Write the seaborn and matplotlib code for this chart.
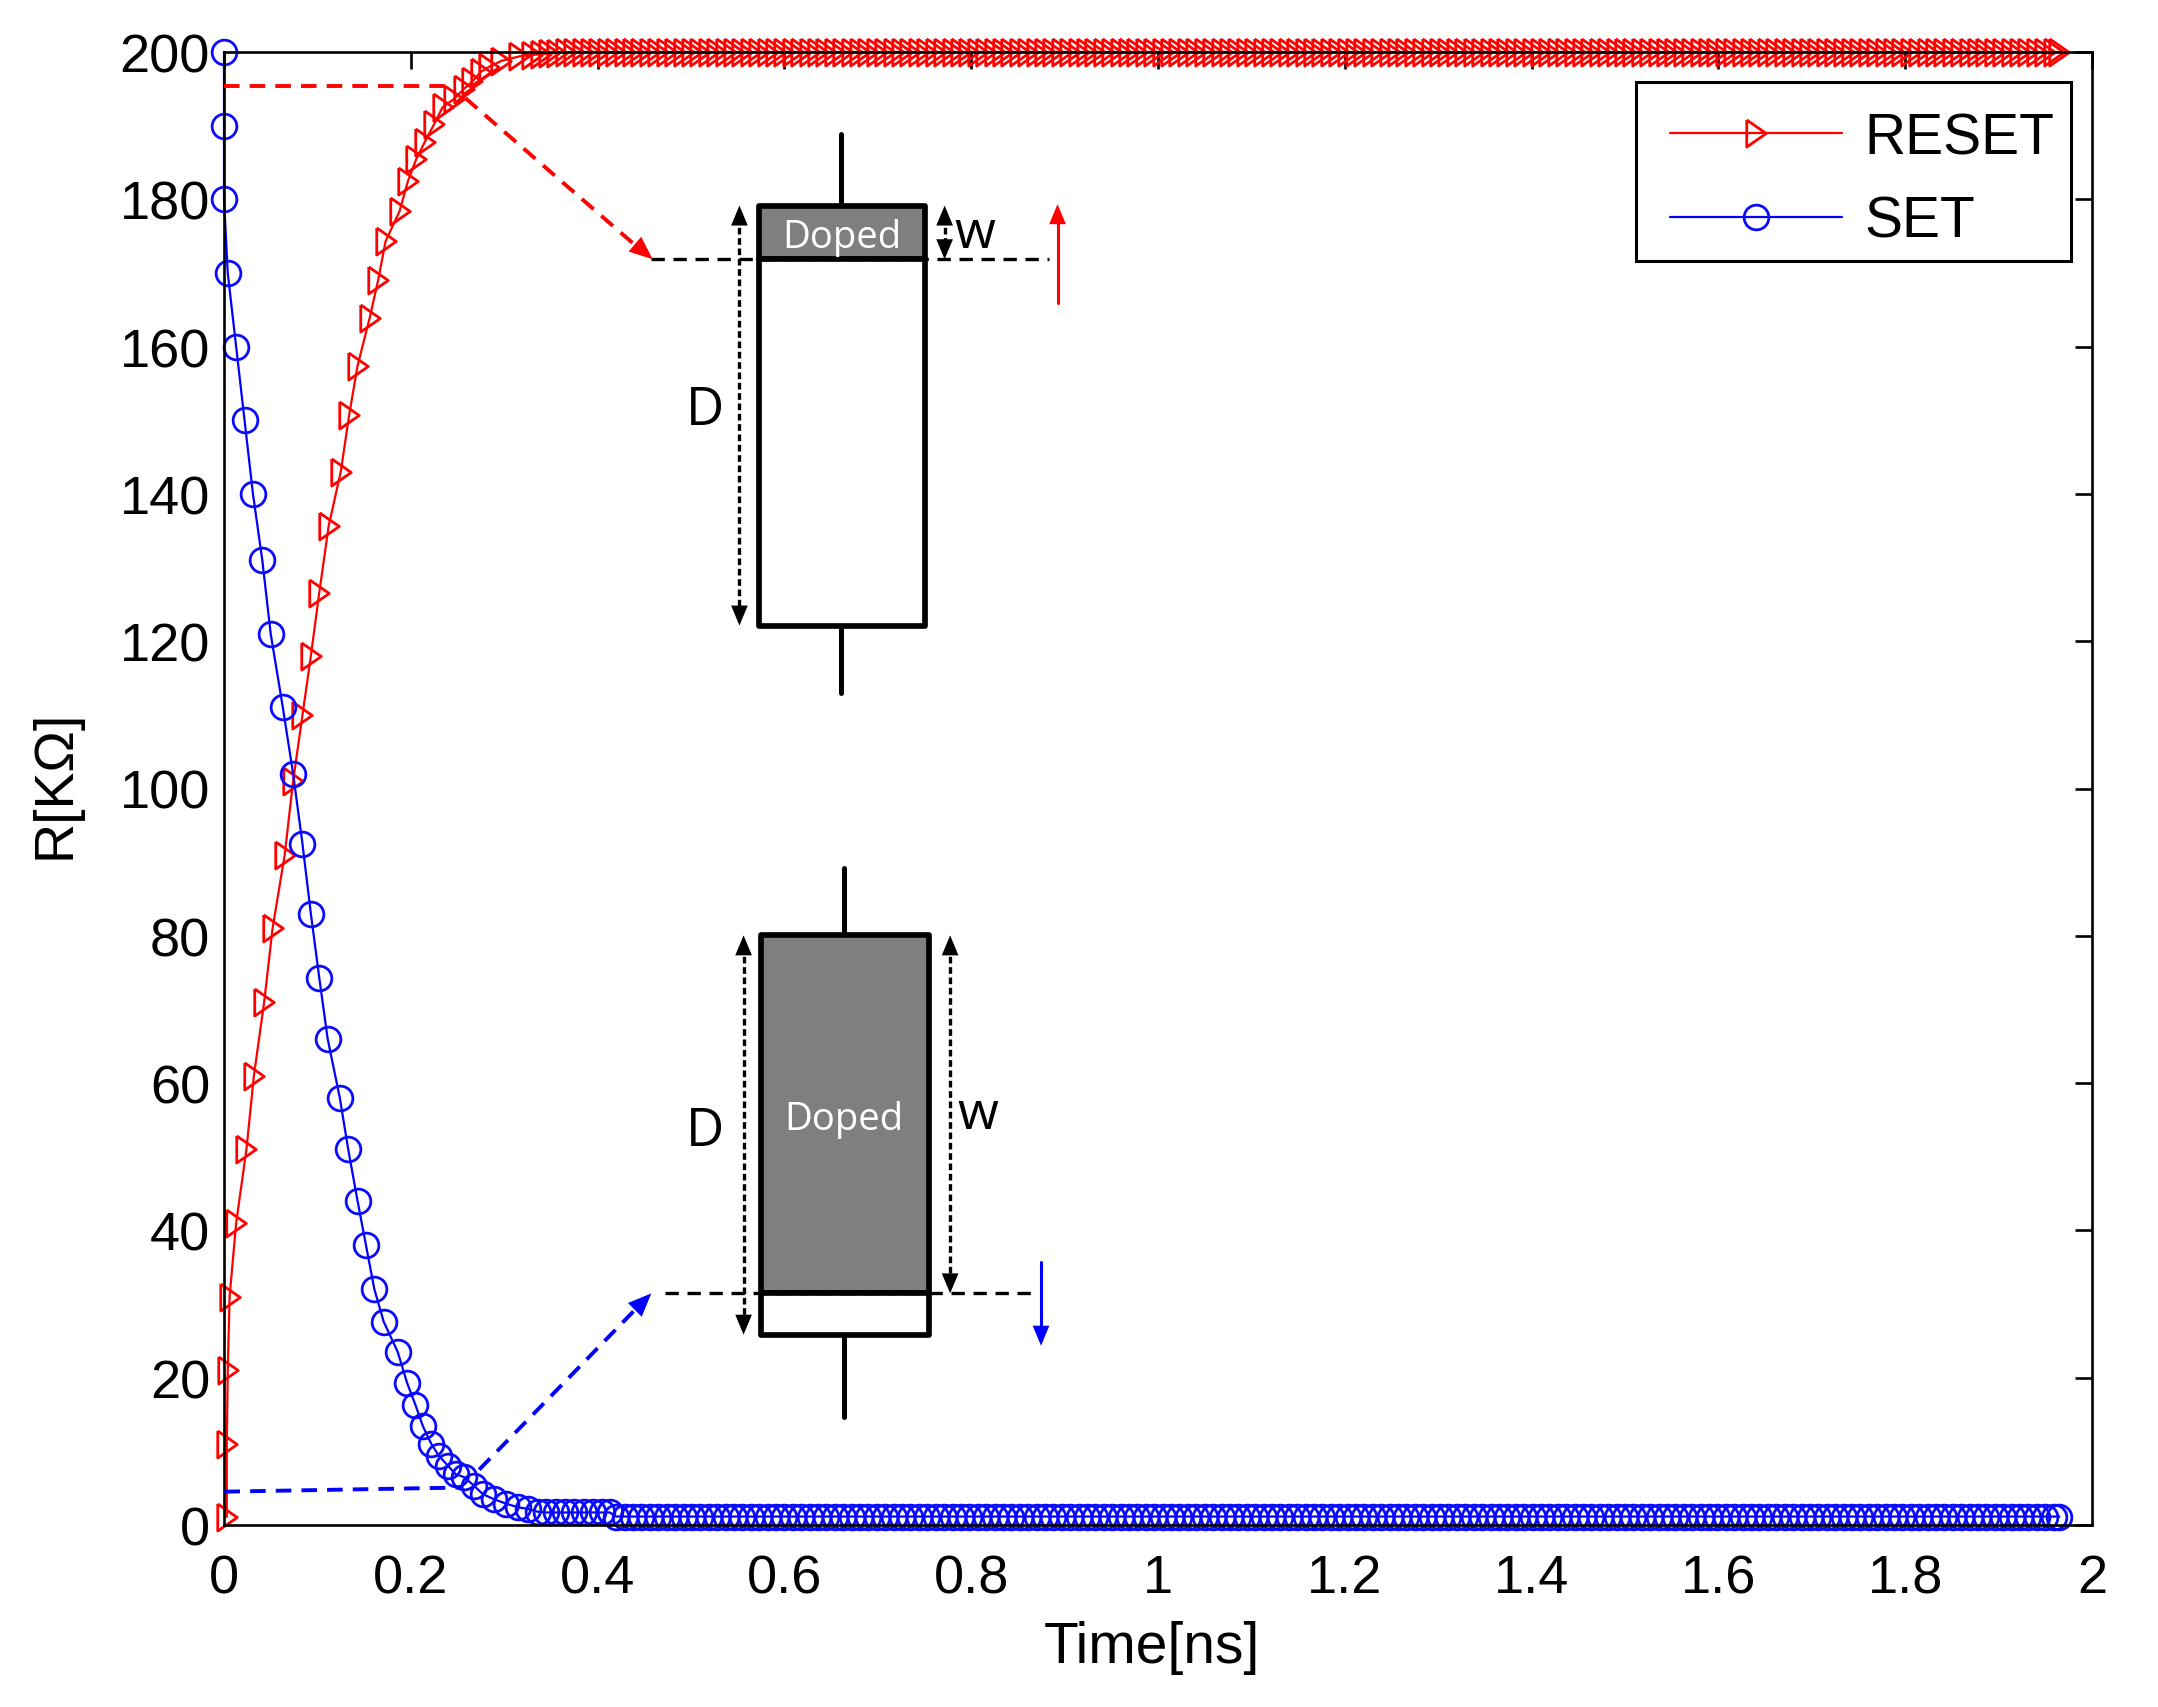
import matplotlib
matplotlib.use("Agg")
import matplotlib.pyplot as plt
import seaborn as sns
from matplotlib.lines import Line2D
from matplotlib.patches import Rectangle, FancyArrowPatch
from matplotlib.transforms import Affine2D

# ---------- data ----------
plateau_time = [
    0.42, 0.429, 0.438, 0.447, 0.456, 0.465, 0.474, 0.483, 0.492, 0.501,
    0.51, 0.519, 0.528, 0.537, 0.546, 0.555, 0.564, 0.573, 0.582, 0.591,
    0.6, 0.609, 0.618, 0.627, 0.636, 0.645, 0.654, 0.663, 0.672, 0.681,
    0.69, 0.699, 0.708, 0.717, 0.726, 0.735, 0.744, 0.753, 0.762, 0.771,
    0.78, 0.789, 0.798, 0.807, 0.816, 0.825, 0.834, 0.843, 0.852, 0.861,
    0.87, 0.879, 0.888, 0.897, 0.906, 0.915, 0.924, 0.933, 0.942, 0.951,
    0.96, 0.969, 0.978, 0.987, 0.996, 1.005, 1.014, 1.023, 1.032, 1.041,
    1.05, 1.059, 1.068, 1.077, 1.086, 1.095, 1.104, 1.113, 1.122, 1.131,
    1.14, 1.149, 1.158, 1.167, 1.176, 1.185, 1.194, 1.203, 1.212, 1.221,
    1.23, 1.239, 1.248, 1.257, 1.266, 1.275, 1.284, 1.293, 1.302, 1.311,
    1.32, 1.329, 1.338, 1.347, 1.356, 1.365, 1.374, 1.383, 1.392, 1.401,
    1.41, 1.419, 1.428, 1.437, 1.446, 1.455, 1.464, 1.473, 1.482, 1.491,
    1.5, 1.509, 1.518, 1.527, 1.536, 1.545, 1.554, 1.563, 1.572, 1.581,
    1.59, 1.599, 1.608, 1.617, 1.626, 1.635, 1.644, 1.653, 1.662, 1.671,
    1.68, 1.689, 1.698, 1.707, 1.716, 1.725, 1.734, 1.743, 1.752, 1.761,
    1.77, 1.779, 1.788, 1.797, 1.806, 1.815, 1.824, 1.833, 1.842, 1.851,
    1.86, 1.869, 1.878, 1.887, 1.896, 1.905, 1.914, 1.923, 1.932, 1.941,
    1.95, 1.959, 1.965,
]
reset_rise_time = [
    0.003, 0.003, 0.004, 0.006, 0.013, 0.024, 0.032, 0.043, 0.052, 0.065,
    0.074, 0.084, 0.093, 0.102, 0.112, 0.125, 0.134, 0.143, 0.156, 0.165,
    0.173, 0.188, 0.197, 0.206, 0.215, 0.225, 0.234, 0.246, 0.257, 0.266,
    0.275, 0.284, 0.297, 0.316, 0.33, 0.339, 0.348, 0.357, 0.366, 0.375,
    0.384, 0.393, 0.402, 0.411,
]
reset_rise_r = [
    1.1, 11, 21, 31, 41, 51, 61, 71, 81, 91,
    101, 110, 118, 126.6, 135.6, 143, 150.7, 157.4, 163.9, 169,
    174.3, 178.4, 182.5, 185.5, 187.8, 190.2, 192.5, 193.6, 195, 196,
    197.3, 198, 198.8, 199.4, 199.6, 199.7, 199.8, 199.9, 200, 200,
    200, 200, 200, 200,
]
set_fall_time = [
    0.0, 0.0, 0.0, 0.004, 0.013, 0.022, 0.031, 0.041, 0.05, 0.063,
    0.074, 0.084, 0.093, 0.102, 0.111, 0.124, 0.133, 0.143, 0.152, 0.161,
    0.171, 0.186, 0.196, 0.205, 0.213, 0.222, 0.23, 0.24, 0.248, 0.257,
    0.268, 0.277, 0.289, 0.302, 0.315, 0.325, 0.336, 0.345, 0.355, 0.365,
    0.375, 0.385, 0.395, 0.405, 0.413,
]
set_fall_r = [
    200, 190, 180, 170, 160, 150, 140, 131, 121, 111,
    102, 92.5, 83, 74.3, 66, 58, 51, 44, 38, 32,
    27.6, 23.5, 19.3, 16.3, 13.4, 11, 9.4, 8, 6.9, 6.5,
    5.3, 4.2, 3.5, 2.9, 2.4, 2.2, 1.8, 1.7, 1.7, 1.7,
    1.7, 1.7, 1.7, 1.7, 1.7,
]
reset_time = reset_rise_time + plateau_time
reset_r = reset_rise_r + [200] * len(plateau_time)
set_time = set_fall_time + plateau_time
set_r = set_fall_r + [1.15] * len(plateau_time)

x_ticks = [0, 0.2, 0.4, 0.6, 0.8, 1, 1.2, 1.4, 1.6, 1.8, 2]
x_tick_labels = ["0", "0.2", "0.4", "0.6", "0.8", "1", "1.2", "1.4", "1.6", "1.8", "2"]
y_ticks = [0, 20, 40, 60, 80, 100, 120, 140, 160, 180, 200]
y_tick_labels = ["0", "20", "40", "60", "80", "100", "120", "140", "160", "180", "200"]

# ---------- figure ----------
W, H = 2158, 1708
sns.set_style("white")
plt.rcParams["font.family"] = ["Liberation Sans", "DejaVu Sans"]
fig = plt.figure(figsize=(W / 100, H / 100), dpi=100, facecolor="white")
L, R, T, B = 224, 2092, 53, 1526
ax = fig.add_axes([L / W, (H - B) / H, (R - L) / W, (B - T) / H])

tri = [(-0.72, 1), (0.72, 0), (-0.72, -1), (-0.72, 1)]
sns.lineplot(x=reset_time, y=reset_r, ax=ax, sort=False, estimator=None, errorbar=None,
             color="#ff0000", lw=1.6, marker=tri, ms=19.5, mfc="none", mec="#ff0000",
             mew=2.0, clip_on=False, label="RESET")
sns.lineplot(x=set_time, y=set_r, ax=ax, sort=False, estimator=None, errorbar=None,
             color="#0000ff", lw=1.6, marker="o", ms=17.8, mfc="none", mec="#0a0aff",
             mew=2.0, clip_on=False, label="SET")

ax.set_xlim(0, 2)
ax.set_ylim(0, 200)
ax.set_xticks(x_ticks, x_tick_labels)
ax.set_yticks(y_ticks, y_tick_labels)
ax.tick_params(axis="both", direction="in", length=12, width=1.9, top=True, right=True,
               labelsize=39, color="black", labelcolor="black")
ax.tick_params(axis="x", pad=20.5)
ax.tick_params(axis="y", pad=10)
for s in ax.spines.values():
    s.set_visible(True)
    s.set_color("black")
    s.set_linewidth(1.9)
ax.set_xlabel("Time[ns]", fontsize=41, va="center", color="black")
ax.set_ylabel("R[KΩ]", fontsize=40, va="center", color="black")
ax.xaxis.set_label_coords(0.497, -0.083)
ax.yaxis.set_label_coords(-0.090, 0.5035)

# ---------- overlaid device sketches (coordinates in reference pixels) ----------
px = Affine2D().scale(1 / W, -1 / H).translate(0, 1) + fig.transFigure
S = 1.377

ax.add_patch(Rectangle((1188 * S, 60 * S), (1504 - 1188) * S, (190 - 60) * S, transform=px,
                       facecolor="white", edgecolor="black", lw=2.2, clip_on=False, zorder=4))
leg = ax.legend(loc="upper left", bbox_to_anchor=(1213 * S, 81.5 * S), bbox_transform=px,
                borderaxespad=0, borderpad=0, fontsize=41, frameon=False,
                handlelength=3.02, handletextpad=0.39, labelspacing=0.52, numpoints=1,
                labelcolor="black")
leg.set_zorder(5)


def line(x0, y0, x1, y1, color="black", lw=2.4, ls="-"):
    fig.add_artist(Line2D([x0 * S, x1 * S], [y0 * S, y1 * S], color=color, lw=lw, ls=ls,
                          transform=px, zorder=6))


def head(x0, y0, x1, y1, color="black", size=24):
    fig.add_artist(FancyArrowPatch((x0 * S, y0 * S), (x1 * S, y1 * S), transform=px,
                                   arrowstyle="-|>,head_length=0.6,head_width=0.25",
                                   mutation_scale=size, color=color, lw=0,
                                   shrinkA=0, shrinkB=0, zorder=7))


def rect(x0, y0, x1, y1, face="none", lw=4.1):
    fig.add_artist(Rectangle((x0 * S, y0 * S), (x1 - x0) * S, (y1 - y0) * S, transform=px,
                             facecolor=face, edgecolor="black", lw=lw, joinstyle="round",
                             zorder=6))


def double_arrow(x, y0, y1):
    line(x, y0 + 8, x, y1 - 8, ls=(0, (2.0, 1.1)), lw=2.4)
    head(x, y0 + 10, x, y0)
    head(x, y1 - 10, x, y1)


dash = (0, (4.0, 2.6))
# upper device
line(611, 98, 611, 150, lw=3.6)
line(611, 455, 611, 504, lw=3.6)
rect(551, 150, 672, 189, face="#7f7f7f")
rect(551, 189, 672, 455, face="white")
line(473, 189, 762, 189, ls=dash)
double_arrow(537, 150, 455)
double_arrow(686, 150, 189)
line(768, 221, 768, 155, color="#ff0000", lw=2.2)
head(768, 162, 768, 149, color="#ff0000")
# lower device
line(613, 631, 613, 680, lw=3.6)
line(613, 970, 613, 1030, lw=3.6)
rect(553, 680, 675, 940, face="#7f7f7f")
rect(553, 940, 675, 970, face="white")
line(483, 940, 752, 940, ls=dash)
double_arrow(540, 680, 970)
double_arrow(690, 680, 940)
line(756, 917, 756, 968, color="#0000ff", lw=2.2)
head(756, 964, 756, 978, color="#0000ff")
# dashed leaders
line(163, 63, 330, 63, color="#ff0000", lw=2.8, ls=dash)
line(338, 72, 465, 182, color="#ff0000", lw=2.8, ls=dash)
head(461, 178, 474, 189, color="#ff0000", size=28)
line(163, 1084, 335, 1081, color="#0000ff", lw=2.8, ls=dash)
line(348, 1068, 464, 949, color="#0000ff", lw=2.8, ls=dash)
head(461, 952, 473, 940, color="#0000ff", size=28)

sketch_font = ["Open Sans", "DejaVu Sans"]
for tx, ty, s, col, fs in [
    (512, 299, "D", "black", 38), (708, 170, "w", "black", 38), (611, 173, "Doped", "white", 27.5),
    (512, 822, "D", "black", 38), (710, 810, "w", "black", 38), (613, 813, "Doped", "white", 27.5),
]:
    fig.text(tx * S, ty * S, s, transform=px, ha="center", va="center", color=col, fontsize=fs,
             family=sketch_font, zorder=8)

fig.savefig("out.png", dpi=100, facecolor="white")
